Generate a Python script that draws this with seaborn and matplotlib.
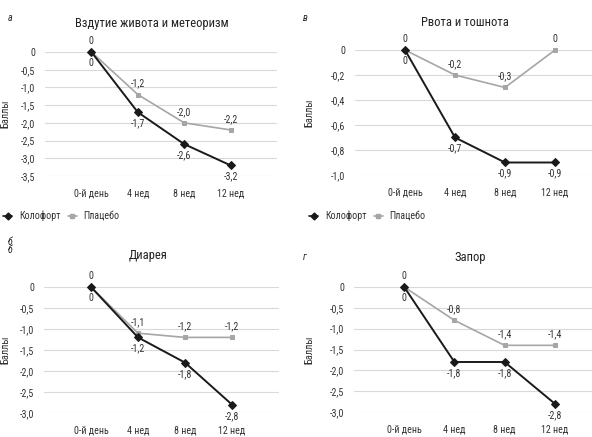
import matplotlib
matplotlib.use("Agg")
import matplotlib.pyplot as plt
import seaborn as sns
import pandas as pd
from matplotlib.lines import Line2D
from matplotlib import font_manager as fm

sns.set_theme(style="white")

weeks = ["0-й день", "4 нед", "8 нед", "12 нед"]
groups = ["Колофорт", "Плацебо"]

titles = ["Вздутие живота и метеоризм", "Рвота и тошнота", "Диарея", "Запор"]
letters = ["а", "в", "б\nб", "г"]

kolofort_a = [0, -1.7, -2.6, -3.2]
placebo_a = [0, -1.2, -2.0, -2.2]
kolofort_b = [0, -0.7, -0.9, -0.9]
placebo_b = [0, -0.2, -0.3, 0]
kolofort_c = [0, -1.2, -1.8, -2.8]
placebo_c = [0, -1.1, -1.2, -1.2]
kolofort_d = [0, -1.8, -1.8, -2.8]
placebo_d = [0, -0.8, -1.4, -1.4]

yticks_a = [0, -0.5, -1.0, -1.5, -2.0, -2.5, -3.0, -3.5]
yticks_b = [0, -0.2, -0.4, -0.6, -0.8, -1.0]
yticks_c = [0, -0.5, -1.0, -1.5, -2.0, -2.5, -3.0]
yticks_d = [0, -0.5, -1.0, -1.5, -2.0, -2.5, -3.0]

panels = [
    (kolofort_a, placebo_a, yticks_a),
    (kolofort_b, placebo_b, yticks_b),
    (kolofort_c, placebo_c, yticks_c),
    (kolofort_d, placebo_d, yticks_d),
]

# pick a condensed font if one is installed
names = {f.name for f in fm.fontManager.ttflist}
family = None
scale = 1.0
for cand in ["Liberation Sans Narrow", "Roboto Condensed", "Open Sans Condensed", "DejaVu Sans Condensed"]:
    if cand in names:
        family = cand
        break
if family is None:
    if any(f.name == "DejaVu Sans" and "condensed" in str(f.stretch) for f in fm.fontManager.ttflist):
        family = "DejaVu Sans"
        plt.rcParams["font.stretch"] = "condensed"
        scale = 0.92
    else:
        family = "Liberation Sans"
        scale = 0.88
plt.rcParams["font.family"] = [family, "DejaVu Sans"]

FS = 7.2 * scale
FT = 9 * scale

colors = {"Колофорт": "#1a1a1a", "Плацебо": "#a6a6a6"}
markers = {"Колофорт": "D", "Плацебо": "s"}

W, H = 592, 437
fig = plt.figure(figsize=(W / 100, H / 100), dpi=100)

# axes rects in pixels: left, right, top(y of 0), bottom(y of min)
rects = [
    (45, 277, 52, 176),
    (355, 605, 50, 175),
    (44, 279, 287, 413),
    (354, 605, 287, 412),
]
ylabel_x = [10, 314, 10, 314]


def fmt(v):
    if v == 0:
        return "0"
    return f"{v:.1f}".replace(".", ",")


for i, ((k, p, yt), (l, r, t, b)) in enumerate(zip(panels, rects)):
    ax = fig.add_axes([l / W, 1 - b / H, (r - l) / W, (b - t) / H])
    df = pd.DataFrame({
        "week": weeks * 2,
        "value": k + p,
        "group": [groups[0]] * 4 + [groups[1]] * 4,
    })
    for g, lw, ms in [("Плацебо", 1.2, 3.3), ("Колофорт", 1.4, 3.8)]:
        sub = df[df.group == g]
        sns.lineplot(data=sub, x="week", y="value", ax=ax, color=colors[g],
                     marker=markers[g], markersize=ms, linewidth=lw,
                     markeredgecolor=colors[g], sort=False, clip_on=False,
                     zorder=3 if g == "Колофорт" else 2, legend=False)
    ax.set_xlim(-1, 4)
    ax.set_ylim(min(yt), 0)
    ax.set_yticks(yt)
    ax.set_yticklabels([fmt(v) for v in yt], fontsize=FS, color="#333333")
    ax.set_xticks(range(4))
    ax.set_xticklabels(weeks, fontsize=FS, color="#333333")
    ax.tick_params(axis="both", length=0)
    ax.tick_params(axis="y", pad=7)
    ax.tick_params(axis="x", pad=9)
    ax.set_xlabel("")
    ax.set_ylabel("Баллы", fontsize=FS * 1.05, color="#333333")
    ax.yaxis.set_label_coords(-(l - ylabel_x[i]) / (r - l), 0.5)
    for s in ax.spines.values():
        s.set_visible(False)
    ax.grid(axis="y", color="#d9d9d9", linewidth=0.8)
    ax.grid(axis="x", visible=False)
    for j in range(4):
        ax.annotate(fmt(k[j]), (j, k[j]), xytext=(0, -8), textcoords="offset points",
                    ha="center", va="center", fontsize=FS, color="#333333", zorder=4)
        ax.annotate(fmt(p[j]), (j, p[j]), xytext=(0, 8), textcoords="offset points",
                    ha="center", va="center", fontsize=FS, color="#333333", zorder=4)

# titles
title_pos = [(152, 23), (465, 22), (148, 256), (470, 257)]
for (x, y), ttl in zip(title_pos, titles):
    fig.text(x / W, 1 - y / H, ttl, ha="center", va="center", fontsize=FT, color="#222222")

letter_pos = [(8, 18), (303, 18), (8, 246), (303, 257)]
for (x, y), lt in zip(letter_pos, letters):
    fig.text(x / W, 1 - y / H, lt, ha="left", va="center", fontsize=FS, style="italic",
             color="#222222", linespacing=0.8)

# legends
handles = [Line2D([0], [0], color=colors[g], marker=markers[g],
                  markersize=3.5 if g == "Колофорт" else 3.2, linewidth=1.2) for g in groups]
for x0 in (3, 309):
    fig.legend(handles, groups, loc="center left", bbox_to_anchor=(x0 / W, 1 - 216 / H),
               frameon=False, ncol=2, fontsize=FS, handlelength=0.9, handletextpad=0.7,
               columnspacing=0.7, borderaxespad=0, borderpad=0, labelcolor="#333333")

fig.savefig("out.png", dpi=100)
